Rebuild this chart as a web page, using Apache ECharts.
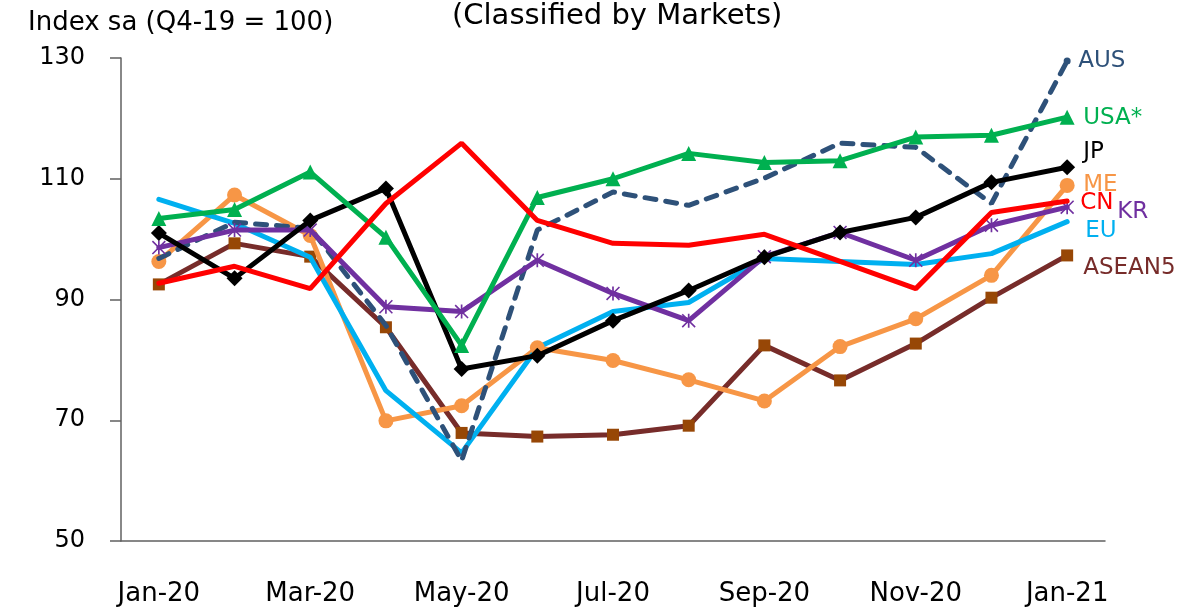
<!DOCTYPE html>
<html style="height: 100%">
<head>
  <meta charset="utf-8">
  <title>Index sa by markets</title>
  <script src="https://cdn.jsdelivr.net/npm/echarts@6/dist/echarts.min.js"></script>
</head>
<body style="height: 100%; margin: 0; background: #fff">
  <div id="main" style="width: 1199px; height: 609px"></div>
  <script type="text/javascript">
    // months shown on the x axis (every other one gets a label)
    var months = ['Jan-20', 'Feb-20', 'Mar-20', 'Apr-20', 'May-20', 'Jun-20', 'Jul-20',
                  'Aug-20', 'Sep-20', 'Oct-20', 'Nov-20', 'Dec-20', 'Jan-21'];
    var yTicks = [50, 70, 90, 110, 130];

    var aus    = [96.8, 102.8, 101.8, 85.7, 63.3, 101.5, 107.8, 105.6, 110.1, 115.9, 115.2, 105.9, 129.5];
    var usa    = [103.4, 104.9, 111.1, 100.3, 82.4, 106.9, 110.0, 114.2, 112.7, 113.0, 116.9, 117.2, 120.2];
    var jp     = [101.0, 93.5, 103.1, 108.4, 78.5, 80.7, 86.5, 91.5, 97.0, 101.1, 103.6, 109.4, 111.9];
    var me     = [96.3, 107.3, 100.6, 69.9, 72.4, 82.0, 79.9, 76.7, 73.2, 82.2, 86.8, 94.0, 108.9];
    var cn     = [92.7, 95.5, 91.8, 105.9, 115.9, 103.1, 99.3, 99.0, 100.8, 96.3, 91.8, 104.4, 106.3];
    var kr     = [98.6, 101.5, 101.5, 88.8, 88.0, 96.5, 91.0, 86.5, 97.1, 101.1, 96.5, 102.3, 105.3];
    var eu     = [106.6, 102.6, 97.0, 74.9, 64.6, 82.0, 88.0, 89.5, 96.8, 96.3, 95.8, 97.6, 102.9];
    var asean5 = [92.5, 99.3, 97.1, 85.4, 67.9, 67.3, 67.6, 69.1, 82.4, 76.6, 82.7, 90.3, 97.3];

    var font = 'DejaVu Sans';
    // asterisk marker (x plus vertical bar)
    var asterisk = 'path://M4.4 0 H5.6 V10 H4.4 Z M0 0.8 L0.8 0 L10 9.2 L9.2 10 Z M9.2 0 L10 0.8 L0.8 10 L0 9.2 Z';

    function line(name, data, color, opts) {
      return {
        name: name,
        type: 'line',
        data: data,
        symbol: opts.symbol || 'none',
        symbolSize: opts.size || 12,
        showSymbol: true,
        lineStyle: { color: color, width: 5, type: opts.dash || 'solid', cap: 'round' },
        itemStyle: { color: opts.markerColor || color },
        z: opts.z || 2,
        animation: false,
        endLabel: {
          show: true,
          formatter: name,
          color: opts.labelColor || color,
          fontFamily: font,
          fontSize: 23,
          offset: opts.offset
        }
      };
    }

    var ausData = aus.map(function (v, i) {
      return i === aus.length - 1 ? { value: v, symbol: 'circle', symbolSize: 7 } : v;
    });

    var option = {
      backgroundColor: '#fff',
      textStyle: { fontFamily: font },
      graphic: [
        { type: 'text', left: 28, top: 10, style: { text: 'Index sa (Q4-19 = 100)', font: '26px "DejaVu Sans"', fill: '#000' } },
        { type: 'text', left: 452, top: 2, style: { text: '(Classified by Markets)', font: '29px "DejaVu Sans"', fill: '#000' } }
      ],
      grid: { left: 121, right: 94, top: 58, bottom: 68 },
      xAxis: {
        type: 'category',
        data: months,
        boundaryGap: true,
        axisLine: { lineStyle: { color: '#606060', width: 1.5 } },
        axisTick: { interval: 1, length: 11, lineStyle: { color: '#606060', width: 1.5 } },
        axisLabel: { interval: 1, color: '#000', fontSize: 26, fontFamily: font, margin: 40 }
      },
      yAxis: {
        type: 'value',
        min: yTicks[0],
        max: yTicks[yTicks.length - 1],
        interval: 20,
        axisLine: { show: true, lineStyle: { color: '#606060', width: 1.5 } },
        axisTick: { show: true, length: 11, lineStyle: { color: '#606060', width: 1.5 } },
        splitLine: { show: false },
        axisLabel: { color: '#000', fontSize: 24, fontFamily: font, margin: 36 }
      },
      series: [
        line('ASEAN5', asean5, '#772C2A', { symbol: 'rect', size: 12, markerColor: '#974706', offset: [8, 13], z: 2 }),
        line('ME', me, '#F79646', { symbol: 'circle', size: 15, offset: [8, 0], z: 3 }),
        line('EU', eu, '#00B0F0', { offset: [10, 9], z: 3 }),
        line('AUS', ausData, '#2E5179', { dash: [11, 10], offset: [3, 0], z: 4 }),
        line('KR', kr, '#7030A0', { symbol: asterisk, size: 14, offset: [42, 5], z: 5 }),
        line('JP', jp, '#000000', { symbol: 'diamond', size: 16, offset: [8, -15], z: 6 }),
        line('USA*', usa, '#00B050', { symbol: 'triangle', size: 15, offset: [8, 1], z: 6 }),
        line('CN', cn, '#FF0000', { offset: [5, 2], z: 7 })
      ]
    };

    var chart = echarts.init(document.getElementById('main'));
    chart.setOption(option);
  </script>
</body>
</html>
